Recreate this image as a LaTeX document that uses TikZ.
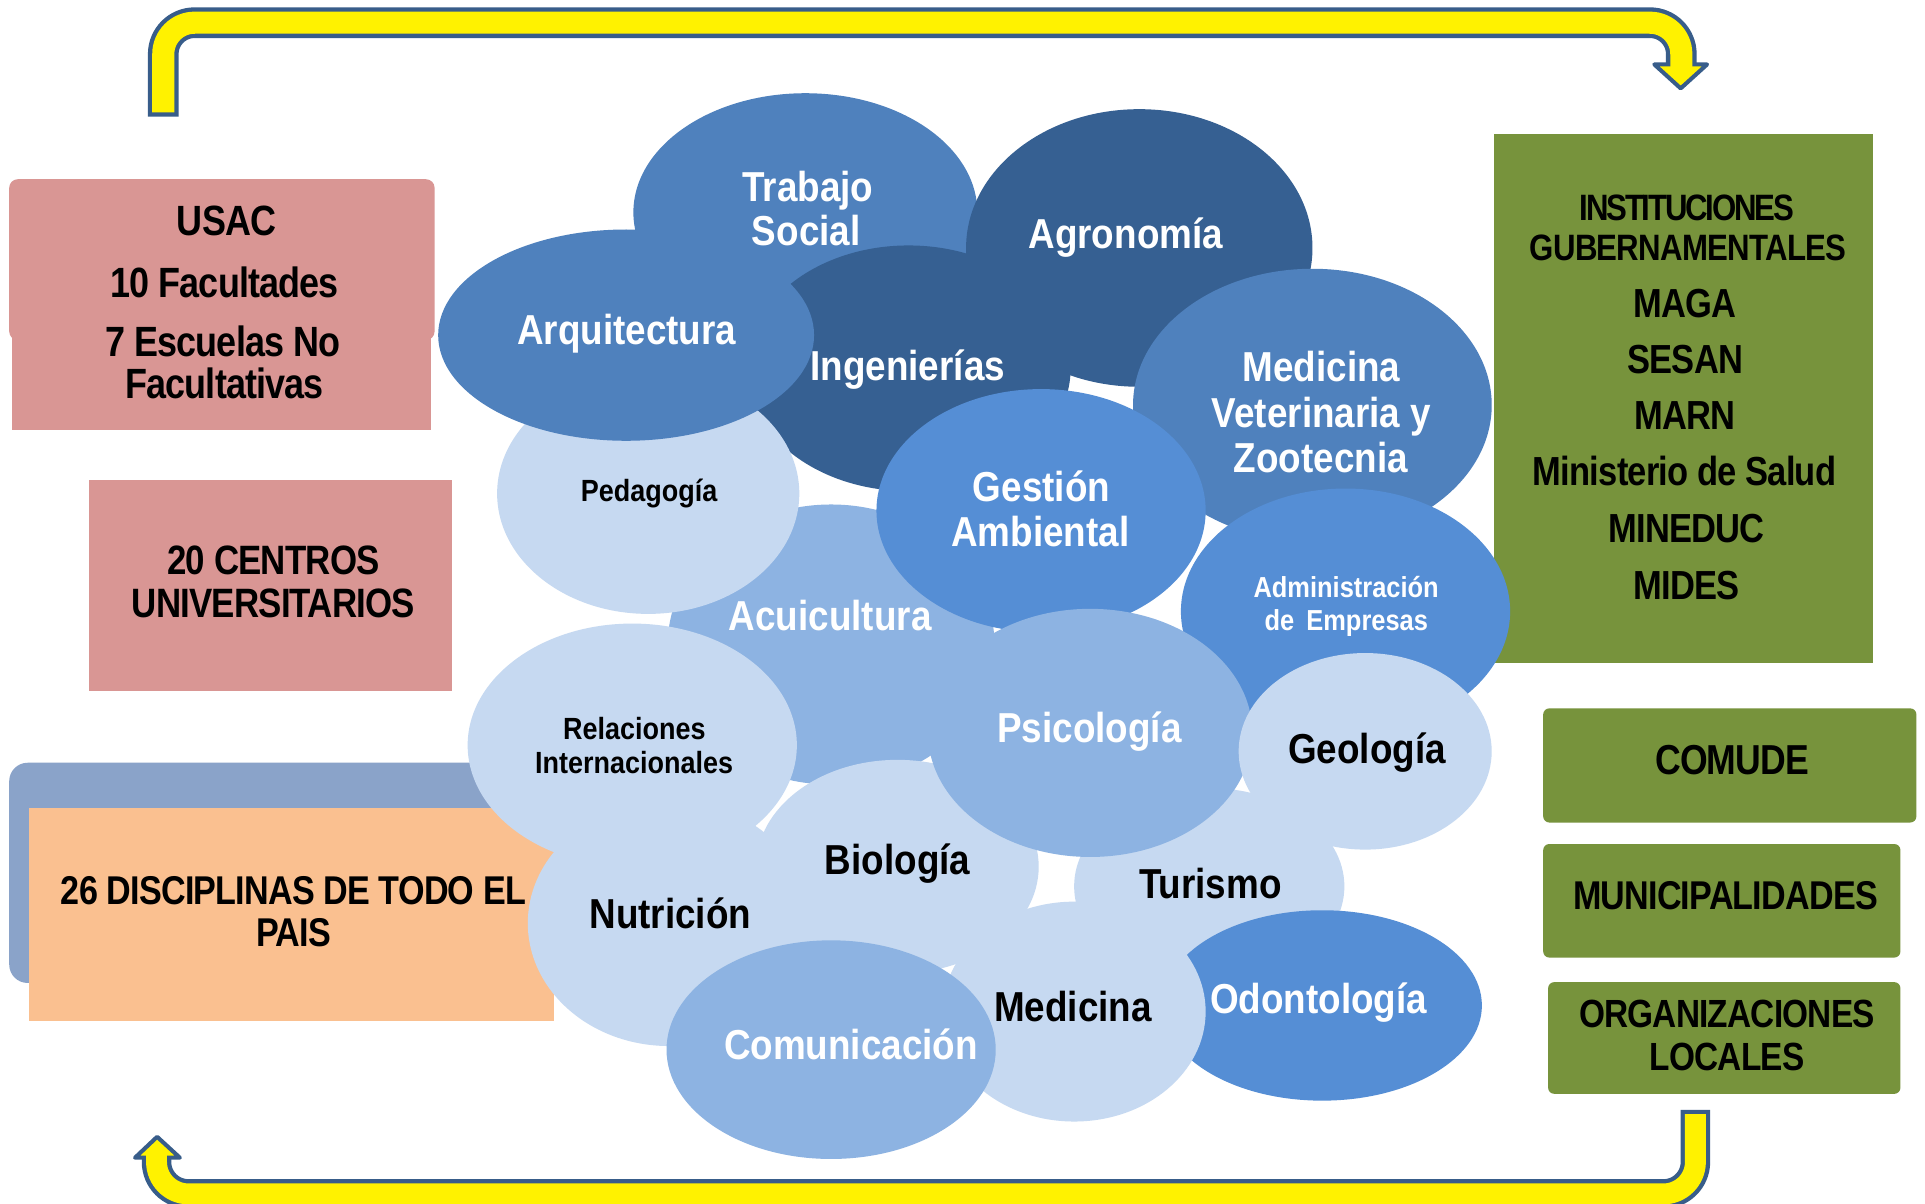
\documentclass[tikz,border=0pt]{standalone}
\usepackage{fontspec}
\setmainfont{Liberation Sans}
\newfontfamily\elfont[FakeStretch=0.88]{Liberation Sans}
\newfontfamily\bxfont[FakeStretch=0.85,LetterSpace=-2]{Liberation Sans}
\usetikzlibrary{shapes.geometric}
\definecolor{pinkbox}{HTML}{D99694}
\definecolor{peach}{HTML}{FAC090}
\definecolor{bluegray}{HTML}{8AA3C9}
\definecolor{olivebox}{HTML}{77933C}
\definecolor{dkblue}{HTML}{366092}
\definecolor{accblue}{HTML}{4F81BD}
\definecolor{midblue}{HTML}{558ED5}
\definecolor{ltblue}{HTML}{8DB3E2}
\definecolor{paleblue}{HTML}{C6D9F1}
\definecolor{arrline}{HTML}{385D8A}
\tikzset{
  elp/.style={ellipse, inner sep=0pt, draw=none},
  wl/.style={anchor=base, inner sep=0pt, text=white, font=\elfont\bfseries\fontsize{9.7}{11}\selectfont},
  bl/.style={wl, text=black},
  ws/.style={wl, font=\elfont\bfseries\fontsize{6.7}{8}\selectfont},
  bs/.style={bl, font=\elfont\bfseries\fontsize{7.1}{8}\selectfont},
  bxt/.style={anchor=base, inner sep=0pt, text=black, font=\bxfont\bfseries\fontsize{9.4}{11}\selectfont},
  arrout/.style={draw=arrline, line width=0.25cm},
  arrin/.style={draw=yellow, line width=0.18cm},
  arrhead/.style={fill=yellow, draw=arrline, line width=0.033cm, line join=round},
}
\begin{document}
\begin{tikzpicture}[x=0.01cm, y=-0.01cm]
\fill[white] (0,0) rectangle (1568,980);
\useasboundingbox (0,0) rectangle (1568,980);

% ---------- arrows ----------
\draw[arrout, rounded corners=0.255cm] (133,95) -- (133,18.5) -- (1369.5,18.5) -- (1369.5,52);
\filldraw[arrhead] (1347.5,52.5) -- (1390.5,52.5) -- (1369,72) -- cycle;
\draw[arrin, rounded corners=0.255cm] (133,91.5) -- (133,18.5) -- (1369.5,18.5) -- (1369.5,55);

\draw[arrout, line width=0.24cm, rounded corners=0.26cm] (1381,904) -- (1381,972.5) -- (127.5,972.5) -- (127.5,944);
\filldraw[arrhead] (110,943) -- (146.5,943) -- (128,926) -- cycle;
\draw[arrin, line width=0.17cm, rounded corners=0.26cm] (1381,907.5) -- (1381,972.5) -- (127.5,972.5) -- (127.5,940.5);

% ---------- left boxes ----------
\fill[pinkbox] (10,150) rectangle (351,350);
\fill[pinkbox, rounded corners=0.07cm] (7.5,146) rectangle (354,277);
\node[bxt, font=\bxfont\bfseries\fontsize{9.8}{11}\selectfont] (usac1) at (184.6,192) {USAC};
\node[bxt, font=\bxfont\bfseries\fontsize{9.8}{11}\selectfont] (usac2) at (183,242) {10 Facultades};
\node[bxt, font=\bxfont\bfseries\fontsize{9.8}{11}\selectfont] (usac3) at (181.6,290) {7 Escuelas No};
\node[bxt, font=\bxfont\bfseries\fontsize{9.8}{11}\selectfont] (usac4) at (183,324.6) {Facultativas};

\fill[pinkbox] (72.3,390.7) rectangle (368,563);
\node[bxt, font=\bxfont\bfseries\fontsize{9.5}{11}\selectfont] (cen1) at (222.7,468) {20 CENTROS};
\node[bxt, font=\bxfont\bfseries\fontsize{9.5}{11}\selectfont] (cen2) at (222.7,502.7) {UNIVERSITARIOS};

\fill[bluegray, rounded corners=0.15cm] (7.5,621.3) rectangle (440,800.7);
\fill[peach] (23.4,658) rectangle (451.4,832);
\node[bxt, font=\bxfont\bfseries\fontsize{9.3}{11}\selectfont] (dis1) at (239,736.8) {26 DISCIPLINAS DE TODO EL};
\node[bxt, font=\bxfont\bfseries\fontsize{9.3}{11}\selectfont] (dis2) at (239,771) {PAIS};

% ---------- right boxes ----------
\fill[olivebox] (1217,109) rectangle (1526,540);
\node[bxt, font=\bxfont\bfseries\fontsize{8.5}{10}\selectfont\addfontfeatures{LetterSpace=-6}] (ins1) at (1374,179.3) {INSTITUCIONES};
\node[bxt, font=\bxfont\bfseries\fontsize{8.5}{10}\selectfont] (ins2) at (1375,212.2) {GUBERNAMENTALES};
\node[bxt] (ins3) at (1372.6,258.4) {MAGA};
\node[bxt] (ins4) at (1372.7,304.3) {SESAN};
\node[bxt] (ins5) at (1372.5,350.2) {MARN};
\node[bxt] (ins6) at (1372.2,395.7) {Ministerio de Salud};
\node[bxt] (ins7) at (1374,441.6) {MINEDUC};
\node[bxt] (ins8) at (1374,488) {MIDES};

\fill[olivebox, rounded corners=0.05cm] (1257,577) rectangle (1561,670);
\node[bxt, font=\bxfont\bfseries\fontsize{9.7}{11}\selectfont] (comude) at (1411,630.8) {COMUDE};
\fill[olivebox, rounded corners=0.05cm] (1257,687.5) rectangle (1548,780);
\node[bxt, font=\bxfont\bfseries\fontsize{9.3}{11}\selectfont] (muni) at (1405.5,741) {MUNICIPALIDADES};
\fill[olivebox, rounded corners=0.05cm] (1261,800) rectangle (1548,891);
\node[bxt, font=\bxfont\bfseries\fontsize{9.1}{11}\selectfont] (org1) at (1406.7,836.7) {ORGANIZACIONES};
\node[bxt, font=\bxfont\bfseries\fontsize{9.1}{11}\selectfont] (org2) at (1406.7,872) {LOCALES};

% ---------- ellipses (back to front) ----------
\node[elp, fill=accblue, minimum width=2.80cm, minimum height=1.94cm] (trab) at (656,173) {};
\node[wl] (trab1) at (658,163.8) {Trabajo};
\node[wl] (trab2) at (656.7,199.7) {Social};

\node[elp, fill=dkblue, minimum width=2.82cm, minimum height=2.26cm] (agro) at (928,202) {};
\node[wl] (agrot) at (917,202.2) {Agronomía};

\node[elp, fill=dkblue, minimum width=2.64cm, minimum height=2.00cm] (ing) at (740,300) {};
\node[wl] (ingt) at (739.4,309.8) {Ingenierías};

\node[elp, fill=ltblue, minimum width=2.66cm, minimum height=2.28cm] (acu) at (677,525) {};
\node[wl] (acut) at (676.2,513.5) {Acuicultura};

\node[elp, fill=paleblue, minimum width=2.46cm, minimum height=1.96cm] (ped) at (528,402) {};
\node[bs] (pedt) at (528.7,408.8) {Pedagogía};

\node[elp, fill=accblue, minimum width=3.06cm, minimum height=1.72cm] (arq) at (510,273) {};
\node[wl] (arqt) at (510.5,280.9) {Arquitectura};

\node[elp, fill=accblue, minimum width=2.92cm, minimum height=2.22cm] (medv) at (1069,330) {};
\node[wl] (medv1) at (1076.4,310.5) {Medicina};
\node[wl] (medv2) at (1076.4,348) {Veterinaria y};
\node[wl] (medv3) at (1076,384.5) {Zootecnia};

\node[elp, fill=midblue, minimum width=2.68cm, minimum height=2.00cm] (adm) at (1096,498) {};
\node[ws] (adm1) at (1096.5,487) {Administración};
\node[ws] (adm2) at (1096.6,513.5) {de\hspace{0.42em}Empresas};

\node[elp, fill=midblue, minimum width=2.68cm, minimum height=1.98cm] (gest) at (848,416) {};
\node[wl] (gest1) at (848.3,408.8) {Gestión};
\node[wl] (gest2) at (847.4,445) {Ambiental};

\node[elp, fill=paleblue, minimum width=2.20cm, minimum height=1.60cm] (tur) at (985,722) {};
\node[bl] (turt) at (985.9,731.5) {Turismo};

\node[elp, fill=midblue, minimum width=2.60cm, minimum height=1.55cm] (odo) at (1077,819) {};
\node[wl] (odot) at (1074,825.4) {Odontología};

\node[elp, fill=paleblue, minimum width=2.68cm, minimum height=1.98cm] (rel) at (515,607) {};
\node[bs] (rel1) at (516.8,602.2) {Relaciones};
\node[bs] (rel2) at (516.5,629.8) {Internacionales};

\node[elp, fill=paleblue, minimum width=2.30cm, minimum height=2.00cm] (nut) at (545,752) {};
\node[bl] (nutt) at (546,756.2) {Nutrición};

\node[elp, fill=paleblue, minimum width=2.30cm, minimum height=1.74cm] (bio) at (731,706) {};
\node[bl] (biot) at (731.1,712.7) {Biología};

\node[elp, fill=ltblue, minimum width=2.64cm, minimum height=2.02cm] (psi) at (888,597) {};
\node[wl] (psit) at (887.4,605) {Psicología};

\node[elp, fill=paleblue, minimum width=2.06cm, minimum height=1.60cm] (geo) at (1112,612) {};
\node[bl] (geot) at (1113.6,622) {Geología};

\node[elp, fill=paleblue, minimum width=2.14cm, minimum height=1.79cm] (med) at (875,824) {};
\node[bl] (medt) at (874,832.2) {Medicina};

\node[elp, fill=ltblue, minimum width=2.68cm, minimum height=1.78cm] (com) at (677,855) {};
\node[wl] (comt) at (693.2,863.4) {Comunicación};
\end{tikzpicture}
\end{document}
